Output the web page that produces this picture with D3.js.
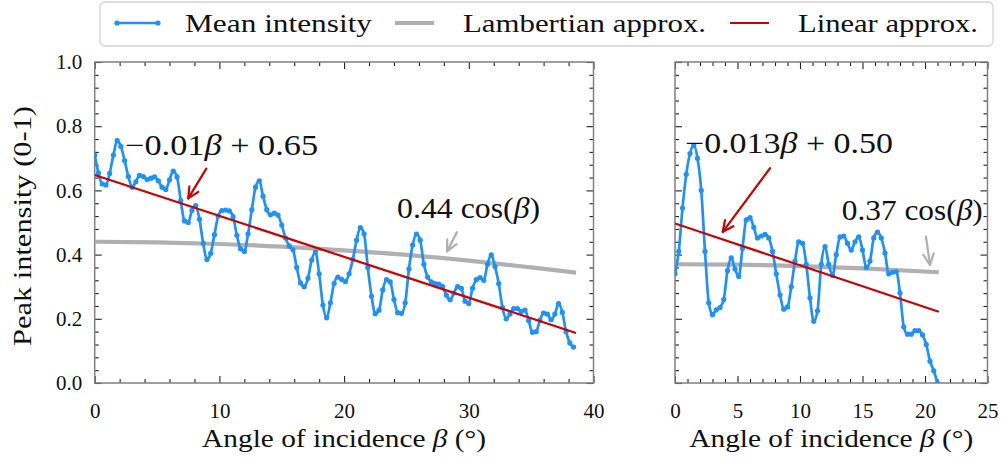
<!DOCTYPE html>
<html><head><meta charset="utf-8">
<script src="https://cdn.jsdelivr.net/npm/d3@7"></script>
<style>
body{margin:0;background:#fff;}
svg{display:block;}
text{font-family:'Liberation Serif','DejaVu Serif',serif;fill:#111;}
</style>
</head><body>
<svg id="chart" width="1003" height="459"></svg>
<script>
// ---------------- data ----------------
const leftStep = 0.3;           // angle step of left measurement (deg)
const leftIntensity = [
  0.71,0.655,0.62,0.617,0.653,0.71,0.755,0.737,0.693,0.643,
  0.61,0.627,0.647,0.643,0.634,0.638,0.642,0.63,0.61,0.603,
  0.633,0.66,0.642,0.568,0.505,0.5,0.538,0.553,0.51,0.435,
  0.385,0.404,0.462,0.52,0.537,0.539,0.536,0.518,0.46,0.418,
  0.41,0.465,0.54,0.61,0.63,0.582,0.54,0.524,0.529,0.523,
  0.492,0.452,0.427,0.415,0.36,0.312,0.30,0.326,0.383,0.408,
  0.34,0.243,0.203,0.25,0.31,0.33,0.323,0.316,0.34,0.385,
  0.445,0.484,0.465,0.36,0.27,0.216,0.227,0.29,0.322,0.315,
  0.26,0.219,0.217,0.25,0.355,0.43,0.464,0.445,0.37,0.33,
  0.315,0.31,0.308,0.30,0.274,0.259,0.28,0.30,0.295,0.255,
  0.248,0.295,0.322,0.328,0.32,0.37,0.399,0.363,0.31,0.235,
  0.20,0.215,0.232,0.232,0.223,0.227,0.195,0.158,0.16,0.195,
  0.218,0.215,0.197,0.215,0.247,0.22,0.16,0.125,0.112
];
const rightStep = 0.3;
const rightIntensity = [
  0.34,0.41,0.545,0.65,0.715,0.74,0.70,0.6,0.41,0.25,
  0.213,0.228,0.235,0.26,0.35,0.39,0.355,0.332,0.42,0.508,
  0.515,0.485,0.452,0.458,0.463,0.452,0.41,0.34,0.275,0.23,
  0.237,0.3,0.38,0.44,0.435,0.37,0.265,0.192,0.225,0.37,
  0.425,0.37,0.335,0.40,0.455,0.458,0.435,0.414,0.44,0.455,
  0.414,0.36,0.38,0.452,0.47,0.452,0.405,0.34,0.345,0.347,
  0.28,0.175,0.152,0.152,0.163,0.163,0.15,0.12,0.068,0.038,
  0.0
];
const leftLambertX  = [0,5,10,15,20,25,30,35,38.6];
const leftLambertY  = [0.44,0.438,0.433,0.425,0.413,0.399,0.381,0.360,0.344];
const rightLambertX = [0,5,10,15,21.1];
const rightLambertY = [0.37,0.369,0.364,0.357,0.345];
const leftLinearX  = [0,38.6];
const leftLinearY  = [0.648,0.156];
const rightLinearX = [0,21.1];
const rightLinearY = [0.497,0.222];

const leftXTicks  = [0,10,20,30,40];
const rightXTicks = [0,5,10,15,20,25];
const yTicks      = [0,0.2,0.4,0.6,0.8,1.0];
const legendLabels = ["Mean intensity","Lambertian approx.","Linear approx."];
const xLabel = "Angle of incidence ";
const yLabel = "Peak intensity (0-1)";

// annotation anchors (data coords)
const leftLinearNote  = {pre:"\u22120.01", post:" + 0.65", x:2.44, y:0.71, w:193, arrow:[8.95,0.668,7.5,0.575]};
const leftLambertNote = {coef:"0.44", x:24.25, y:0.514, w:143, arrow:[29.05,0.47,28.25,0.41]};
const rightLinearNote = {pre:"\u22120.013", post:" + 0.50", x:0.8, y:0.717, w:208, arrow:[7.6,0.669,3.82,0.471]};
const rightLambertNote= {coef:"0.37", x:13.34, y:0.508, w:141, arrow:[20.08,0.456,20.4,0.368]};

// ---------------- styles ----------------
const FONT = "'Liberation Serif','DejaVu Serif',serif";
const BLUE = "#1e90ff", GRAY = "#b0b0b0", RED = "#c80000";
const ADJ = "spacingAndGlyphs";
const yTop = 62, yBot = 383;
const svg = d3.select("#chart");
const y = d3.scaleLinear().domain([0,1]).range([yBot,yTop]);

const panels = [
  {id:"L", range:[94.7,593.5], domain:[0,40], major:leftXTicks, minorStep:2, labels:true,
   xs:leftIntensity.map((_,i)=>i*leftStep), ys:leftIntensity,
   lamX:leftLambertX, lamY:leftLambertY, linX:leftLinearX, linY:leftLinearY,
   linNote:leftLinearNote, lamNote:leftLambertNote},
  {id:"R", range:[675,987.5], domain:[0,25], major:rightXTicks, minorStep:1, labels:false,
   xs:rightIntensity.map((_,i)=>i*rightStep), ys:rightIntensity,
   lamX:rightLambertX, lamY:rightLambertY, linX:rightLinearX, linY:rightLinearY,
   linNote:rightLinearNote, lamNote:rightLambertNote}
];

function arrow(g, x1,y1,x2,y2,color,w){
  const a = Math.atan2(y2-y1,x2-x1), L=12, s=0.45;
  g.append("line").attr("x1",x1).attr("y1",y1).attr("x2",x2).attr("y2",y2)
    .attr("stroke",color).attr("stroke-width",w).attr("stroke-linecap","round");
  const p = [[x2-L*Math.cos(a-s), y2-L*Math.sin(a-s)],[x2,y2],[x2-L*Math.cos(a+s), y2-L*Math.sin(a+s)]];
  g.append("path").attr("d", d3.line()(p)).attr("fill","none").attr("stroke",color)
    .attr("stroke-width",w).attr("stroke-linecap","round").attr("stroke-linejoin","round");
}

const yMinor = d3.range(0,1.0001,0.04).filter(v=>Math.abs(v/0.2-Math.round(v/0.2))>1e-6);

panels.forEach(p=>{
  const x = d3.scaleLinear().domain(p.domain).range(p.range);
  const g = svg.append("g");
  const clipId = "clip"+p.id;
  svg.append("clipPath").attr("id",clipId).append("rect")
    .attr("x",p.range[0]).attr("y",yTop).attr("width",p.range[1]-p.range[0]).attr("height",yBot-yTop);

  const xMinor = d3.range(p.domain[0],p.domain[1]+1e-9,p.minorStep).filter(v=>!p.major.includes(v));
  const style = sel => { sel.select(".domain").remove();
    sel.attr("font-family",null).attr("font-size",null).attr("color","#222");
    sel.selectAll("text").style("font-family",FONT).style("font-size","21px");
    sel.selectAll("line").attr("stroke-width",1.1); };
  g.append("g").attr("transform",`translate(0,${yBot})`)
    .call(d3.axisBottom(x).tickValues(p.major).tickSizeInner(-7).tickSizeOuter(0).tickPadding(20).tickFormat(d3.format("d"))).call(style);
  g.append("g").attr("transform",`translate(0,${yBot})`)
    .call(d3.axisBottom(x).tickValues(xMinor).tickSizeInner(-4).tickSizeOuter(0).tickFormat("")).call(style);
  g.append("g").attr("transform",`translate(0,${yTop})`)
    .call(d3.axisTop(x).tickValues(p.major).tickSizeInner(-7).tickSizeOuter(0).tickFormat("")).call(style);
  g.append("g").attr("transform",`translate(0,${yTop})`)
    .call(d3.axisTop(x).tickValues(xMinor).tickSizeInner(-4).tickSizeOuter(0).tickFormat("")).call(style);
  g.append("g").attr("transform",`translate(${p.range[0]},0)`)
    .call(d3.axisLeft(y).tickValues(yTicks).tickSizeInner(-7).tickSizeOuter(0).tickPadding(12.5)
      .tickFormat(p.labels ? d3.format(".1f") : "")).call(style);
  g.append("g").attr("transform",`translate(${p.range[0]},0)`)
    .call(d3.axisLeft(y).tickValues(yMinor).tickSizeInner(-4).tickSizeOuter(0).tickFormat("")).call(style);
  g.append("g").attr("transform",`translate(${p.range[1]},0)`)
    .call(d3.axisRight(y).tickValues(yTicks).tickSizeInner(-7).tickSizeOuter(0).tickFormat("")).call(style);
  g.append("g").attr("transform",`translate(${p.range[1]},0)`)
    .call(d3.axisRight(y).tickValues(yMinor).tickSizeInner(-4).tickSizeOuter(0).tickFormat("")).call(style);

  g.append("rect").attr("x",p.range[0]).attr("y",yTop).attr("width",p.range[1]-p.range[0]).attr("height",yBot-yTop)
    .attr("fill","none").attr("stroke","#808080").attr("stroke-width",1.5);

  const plot = g.append("g").attr("clip-path",`url(#${clipId})`);
  const lam = p.lamX.map((v,i)=>[x(v),y(p.lamY[i])]);
  plot.append("path").attr("d",d3.line().curve(d3.curveMonotoneX)(lam))
    .attr("fill","none").attr("stroke",GRAY).attr("stroke-width",4.2);
  const pts = p.xs.map((v,i)=>[x(v),y(p.ys[i])]);
  plot.append("path").attr("d",d3.line().curve(d3.curveMonotoneX)(pts))
    .attr("fill","none").attr("stroke",BLUE).attr("stroke-width",2.7).attr("stroke-linejoin","round");
  plot.selectAll("circle.pt").data(pts).enter().append("circle").attr("class","pt")
    .attr("cx",d=>d[0]).attr("cy",d=>d[1]).attr("r",2.6).attr("fill",BLUE);
  const lin = p.linX.map((v,i)=>[x(v),y(p.linY[i])]);
  plot.append("path").attr("d",d3.line()(lin)).attr("fill","none").attr("stroke",RED).attr("stroke-width",2.2);

  const n1 = p.linNote;
  const t1 = g.append("text").attr("x",x(n1.x)).attr("y",y(n1.y)).style("font-size","29px")
    .attr("textLength",n1.w).attr("lengthAdjust",ADJ);
  t1.append("tspan").text(n1.pre);
  t1.append("tspan").style("font-style","italic").text("\u03b2");
  t1.append("tspan").text(n1.post);
  arrow(g, x(n1.arrow[0]),y(n1.arrow[1]),x(n1.arrow[2]),y(n1.arrow[3]),RED,2.2);

  const n2 = p.lamNote;
  const t2 = g.append("text").attr("x",x(n2.x)).attr("y",y(n2.y)).style("font-size","29px")
    .attr("textLength",n2.w).attr("lengthAdjust",ADJ);
  t2.append("tspan").text(n2.coef+" cos(");
  t2.append("tspan").style("font-style","italic").text("\u03b2");
  t2.append("tspan").text(")");
  arrow(g, x(n2.arrow[0]),y(n2.arrow[1]),x(n2.arrow[2]),y(n2.arrow[3]),GRAY,2.2);

  const cx = (p.range[0]+p.range[1])/2;
  const xl = g.append("text").attr("x",cx).attr("y",447).attr("text-anchor","middle").style("font-size","26px")
    .attr("textLength",284).attr("lengthAdjust",ADJ);
  xl.append("tspan").text(xLabel);
  xl.append("tspan").style("font-style","italic").text("\u03b2");
  xl.append("tspan").text(" (\u00b0)");
});

svg.append("text").attr("transform","translate(31,226) rotate(-90)").attr("text-anchor","middle")
  .style("font-size","26px").attr("textLength",240).attr("lengthAdjust",ADJ).text(yLabel);

const lg = svg.append("g");
lg.append("rect").attr("x",100).attr("y",2).attr("width",893).attr("height",44).attr("rx",5)
  .attr("fill","#fff").attr("stroke","#d4d4d4").attr("stroke-width",1.3);
const legItems = [
  {label:legendLabels[0], color:BLUE, w:2.7, dots:true, x0:117, x1:158, tx:185, tw:187},
  {label:legendLabels[1], color:GRAY, w:4.2, dots:false, x0:395, x1:434, tx:463, tw:243},
  {label:legendLabels[2], color:RED, w:2.2, dots:false, x0:730, x1:769, tx:798, tw:180}
];
legItems.forEach(it=>{
  lg.append("line").attr("x1",it.x0).attr("x2",it.x1).attr("y1",23).attr("y2",23)
    .attr("stroke",it.color).attr("stroke-width",it.w);
  if(it.dots){ [it.x0,it.x1].forEach(xx=>lg.append("circle").attr("cx",xx).attr("cy",23).attr("r",2.6).attr("fill",it.color)); }
  lg.append("text").attr("x",it.tx).attr("y",32).style("font-size","26px")
    .attr("textLength",it.tw).attr("lengthAdjust",ADJ).text(it.label);
});
</script>
</body></html>
